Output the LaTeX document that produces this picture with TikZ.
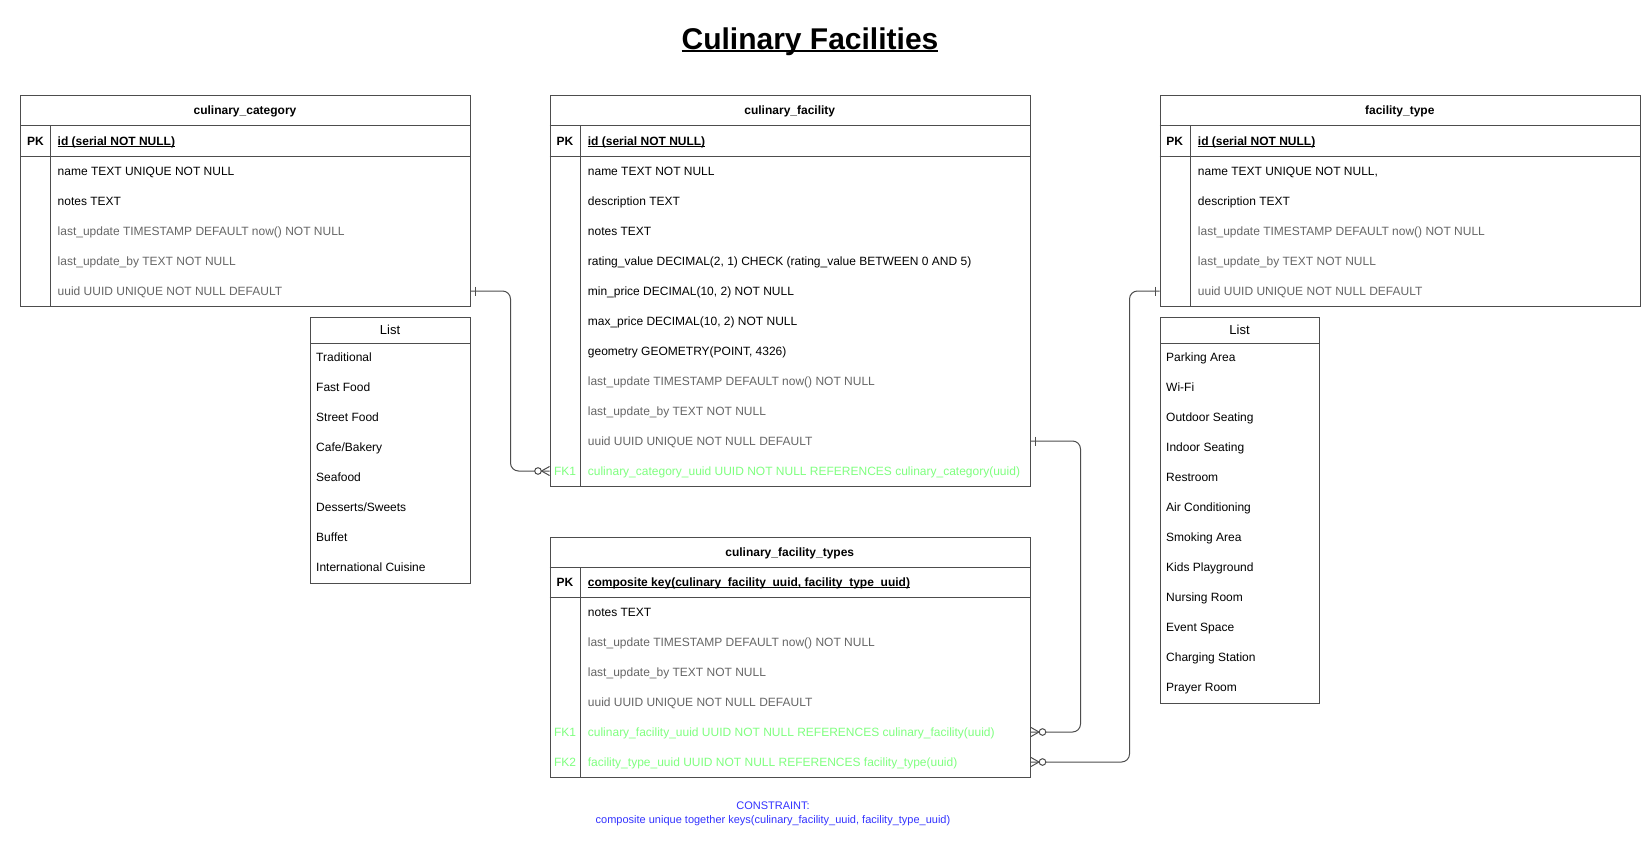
\documentclass[tikz,border=0pt]{standalone}
\usepackage{fontspec}
\setmainfont{Liberation Sans}
\usetikzlibrary{calc}
\definecolor{lnc}{HTML}{4D4D4D}
\definecolor{grayt}{HTML}{666666}
\definecolor{fkg}{HTML}{80FF80}
\definecolor{cblue}{HTML}{3333FF}
\newlength\ulw
\newcommand\myul[1]{\settowidth\ulw{#1}\rlap{\rule[-1.3pt]{\ulw}{0.9pt}}#1}
\newcommand\myulT[1]{\settowidth\ulw{#1}\rlap{\rule[-3pt]{\ulw}{2.4pt}}#1}
\begin{document}
\begin{tikzpicture}[x={(1pt,0)},y={(0,-1pt)},
  tblbox/.style={draw=lnc, line width=1pt, inner sep=0, anchor=north west},
  tline/.style={draw=lnc, line width=1pt},
  rowt/.style={anchor=west, inner sep=0, text height=8.6pt, text depth=0pt, font=\fontsize{12}{14}\selectfont},
  grayrow/.style={rowt, text=grayt},
  fkrow/.style={rowt, text=fkg},
  hdr/.style={anchor=center, inner sep=0, text height=8.6pt, text depth=0pt, font=\fontsize{12}{14}\selectfont\bfseries},
  fkl/.style={anchor=center, inner sep=0, text height=8.6pt, text depth=0pt, font=\fontsize{12}{14}\selectfont, text=fkg},
  listhdr/.style={anchor=center, inner sep=0, text height=9.3pt, text depth=0pt, font=\fontsize{13}{15}\selectfont},
  item/.style={anchor=west, inner sep=0, text height=8.6pt, text depth=0pt, font=\fontsize{12}{14}\selectfont},
  conn/.style={draw=lnc, line width=1pt, rounded corners=8pt},
  endm/.style={draw=lnc, line width=1pt}
]
\fill[white] (0,0) rectangle (1652,843);
\useasboundingbox (0,0) rectangle (1652,843);

% Title
\node[anchor=center, inner sep=0, text height=21.5pt, text depth=0pt, font=\fontsize{30}{34}\selectfont\bfseries] (title) at (810,38.5) {\myulT{Culinary Facilities}};

% ---------- culinary_category ----------
\node[tblbox, minimum width=450pt, minimum height=211pt] (cc) at (20,95) {};
\draw[tline] (20,125.5) -- (470,125.5) (20,156) -- (470,156) (50.5,125.5) -- (50.5,306);
\node[hdr] (cc-title) at (245,110.5) {culinary\_category};
\node[hdr] (cc-pk) at (35.5,141) {PK};
\node[rowt, font=\fontsize{12}{14}\selectfont\bfseries] (cc-id) at (57.5,141) {\myul{id (serial NOT NULL)}};
\node[rowt] (cc-name) at (57.5,171) {name TEXT UNIQUE NOT NULL};
\node[rowt] (cc-notes) at (57.5,201) {notes TEXT};
\node[grayrow] (cc-lu) at (57.5,231) {last\_update TIMESTAMP DEFAULT now() NOT NULL};
\node[grayrow] (cc-lub) at (57.5,261) {last\_update\_by TEXT NOT NULL};
\node[grayrow] (cc-uuid) at (57.5,291) {uuid UUID UNIQUE NOT NULL DEFAULT};

% ---------- culinary_facility ----------
\node[tblbox, minimum width=480.5pt, minimum height=391pt] (cf) at (549.5,95) {};
\draw[tline] (549.5,125.5) -- (1030,125.5) (549.5,156) -- (1030,156) (580.5,125.5) -- (580.5,486);
\node[hdr] (cf-title) at (789.75,110.5) {culinary\_facility};
\node[hdr] (cf-pk) at (565,141) {PK};
\node[rowt, font=\fontsize{12}{14}\selectfont\bfseries] (cf-id) at (587.7,141) {\myul{id (serial NOT NULL)}};
\node[rowt] (cf-name) at (587.7,171) {name TEXT NOT NULL};
\node[rowt] (cf-desc) at (587.7,201) {description TEXT};
\node[rowt] (cf-notes) at (587.7,231) {notes TEXT};
\node[rowt] (cf-rating) at (587.7,261) {rating\_value DECIMAL(2, 1) CHECK (rating\_value BETWEEN 0 AND 5)};
\node[rowt] (cf-min) at (587.7,291) {min\_price DECIMAL(10, 2) NOT NULL};
\node[rowt] (cf-max) at (587.7,321) {max\_price DECIMAL(10, 2) NOT NULL};
\node[rowt] (cf-geom) at (587.7,351) {geometry GEOMETRY(POINT, 4326)};
\node[grayrow] (cf-lu) at (587.7,381) {last\_update TIMESTAMP DEFAULT now() NOT NULL};
\node[grayrow] (cf-lub) at (587.7,411) {last\_update\_by TEXT NOT NULL};
\node[grayrow] (cf-uuid) at (587.7,441) {uuid UUID UNIQUE NOT NULL DEFAULT};
\node[fkl] (cf-fk1l) at (565,471) {FK1};
\node[fkrow] (cf-fk1) at (587.7,471) {culinary\_category\_uuid UUID NOT NULL REFERENCES culinary\_category(uuid)};

% ---------- facility_type ----------
\node[tblbox, minimum width=480.5pt, minimum height=211pt] (ft) at (1159.5,95) {};
\draw[tline] (1159.5,125.5) -- (1640,125.5) (1159.5,156) -- (1640,156) (1190,125.5) -- (1190,306);
\node[hdr] (ft-title) at (1399.75,110.5) {facility\_type};
\node[hdr] (ft-pk) at (1174.75,141) {PK};
\node[rowt, font=\fontsize{12}{14}\selectfont\bfseries] (ft-id) at (1197.7,141) {\myul{id (serial NOT NULL)}};
\node[rowt] (ft-name) at (1197.7,171) {name TEXT UNIQUE NOT NULL,};
\node[rowt] (ft-desc) at (1197.7,201) {description TEXT};
\node[grayrow] (ft-lu) at (1197.7,231) {last\_update TIMESTAMP DEFAULT now() NOT NULL};
\node[grayrow] (ft-lub) at (1197.7,261) {last\_update\_by TEXT NOT NULL};
\node[grayrow] (ft-uuid) at (1197.7,291) {uuid UUID UNIQUE NOT NULL DEFAULT};

% ---------- culinary_facility_types ----------
\node[tblbox, minimum width=480.5pt, minimum height=240pt] (cft) at (549.5,537) {};
\draw[tline] (549.5,567) -- (1030,567) (549.5,597) -- (1030,597) (580.5,567) -- (580.5,777);
\node[hdr] (cft-title) at (789.75,552) {culinary\_facility\_types};
\node[hdr] (cft-pk) at (565,582) {PK};
\node[rowt, font=\fontsize{12}{14}\selectfont\bfseries] (cft-id) at (587.7,582) {\myul{composite key(culinary\_facility\_uuid, facility\_type\_uuid)}};
\node[rowt] (cft-notes) at (587.7,612) {notes TEXT};
\node[grayrow] (cft-lu) at (587.7,642) {last\_update TIMESTAMP DEFAULT now() NOT NULL};
\node[grayrow] (cft-lub) at (587.7,672) {last\_update\_by TEXT NOT NULL};
\node[grayrow] (cft-uuid) at (587.7,702) {uuid UUID UNIQUE NOT NULL DEFAULT};
\node[fkl] (cft-fk1l) at (565,732) {FK1};
\node[fkrow] (cft-fk1) at (587.7,732) {culinary\_facility\_uuid UUID NOT NULL REFERENCES culinary\_facility(uuid)};
\node[fkl] (cft-fk2l) at (565,762) {FK2};
\node[fkrow] (cft-fk2) at (587.7,762) {facility\_type\_uuid UUID NOT NULL REFERENCES facility\_type(uuid)};

% constraint note
\node[anchor=center, inner sep=0, align=center, text=cblue, font=\fontsize{11}{14}\selectfont] (constr) at (773,814) {CONSTRAINT:\\composite unique together keys(culinary\_facility\_uuid, facility\_type\_uuid)};

% ---------- left list ----------
\node[tblbox, minimum width=160pt, minimum height=266pt] (l1) at (310,317) {};
\draw[tline] (310,343) -- (470,343);
\node[listhdr] (l1-h) at (390,330) {List};
\node[item] (l1-a) at (316,357) {Traditional};
\node[item] (l1-b) at (316,387) {Fast Food};
\node[item] (l1-c) at (316,417) {Street Food};
\node[item] (l1-d) at (316,447) {Cafe/Bakery};
\node[item] (l1-e) at (316,477) {Seafood};
\node[item] (l1-f) at (316,507) {Desserts/Sweets};
\node[item] (l1-g) at (316,537) {Buffet};
\node[item] (l1-h2) at (316,567) {International Cuisine};

% ---------- right list ----------
\node[tblbox, minimum width=159pt, minimum height=386pt] (l2) at (1160,317) {};
\draw[tline] (1160,343) -- (1319,343);
\node[listhdr] (l2-h) at (1239.5,330) {List};
\node[item] (l2-a) at (1166,357) {Parking Area};
\node[item] (l2-b) at (1166,387) {Wi-Fi};
\node[item] (l2-c) at (1166,417) {Outdoor Seating};
\node[item] (l2-d) at (1166,447) {Indoor Seating};
\node[item] (l2-e) at (1166,477) {Restroom};
\node[item] (l2-f) at (1166,507) {Air Conditioning};
\node[item] (l2-g) at (1166,537) {Smoking Area};
\node[item] (l2-h2) at (1166,567) {Kids Playground};
\node[item] (l2-i) at (1166,597) {Nursing Room};
\node[item] (l2-j) at (1166,627) {Event Space};
\node[item] (l2-k) at (1166,657) {Charging Station};
\node[item] (l2-l) at (1166,687) {Prayer Room};

% ---------- connectors ----------
\coordinate (s1) at (cc.east |- cc-uuid);
\coordinate (e1) at (cf.west |- cf-fk1);
\draw[conn] (s1) -- ++(39.5,0) |- (e1);
\draw[endm] ($(s1)+(4,-4.5)$) -- ($(s1)+(4,4.5)$);
\draw[endm] ($(e1)+(0,-4.5)$) -- ($(e1)+(-8,0)$) -- ($(e1)+(0,4.5)$);
\draw[endm, fill=white] ($(e1)+(-11.5,0)$) circle (3.3);

\coordinate (s2) at (cf.east |- cf-uuid);
\coordinate (e2) at (cft.east |- cft-fk1);
\draw[conn] (s2) -- ++(49.5,0) |- (e2);
\draw[endm] ($(s2)+(4,-4.5)$) -- ($(s2)+(4,4.5)$);
\draw[endm] ($(e2)+(0,-4.5)$) -- ($(e2)+(8,0)$) -- ($(e2)+(0,4.5)$);
\draw[endm, fill=white] ($(e2)+(11.5,0)$) circle (3.3);

\coordinate (s3) at (ft.west |- ft-uuid);
\coordinate (e3) at (cft.east |- cft-fk2);
\draw[conn] (s3) -- ++(-30,0) |- (e3);
\draw[endm] ($(s3)+(-4,-4.5)$) -- ($(s3)+(-4,4.5)$);
\draw[endm] ($(e3)+(0,-4.5)$) -- ($(e3)+(8,0)$) -- ($(e3)+(0,4.5)$);
\draw[endm, fill=white] ($(e3)+(11.5,0)$) circle (3.3);
\end{tikzpicture}
\end{document}
